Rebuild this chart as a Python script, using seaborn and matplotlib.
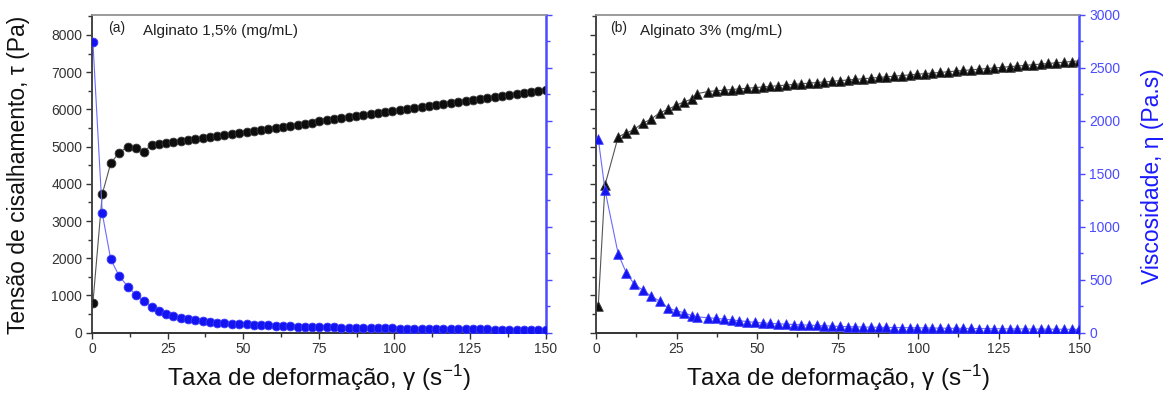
import matplotlib
matplotlib.use("Agg")
import matplotlib.pyplot as plt
from matplotlib.ticker import MultipleLocator
import seaborn as sns

# ---------------- data ----------------
# Panel (a): Alginato 1,5 %
rate_a = [0.3, 3.4, 6.2, 9.0, 11.9, 14.5, 17.1, 19.7, 22.1, 24.5, 26.9, 29.4, 31.8,
          34.2, 36.6, 39.0, 41.4, 43.8, 46.2, 48.7, 51.1, 53.5, 55.9, 58.3, 60.7,
          63.1, 65.5, 68.0, 70.4, 72.8, 75.2, 77.6, 80.0, 82.4, 84.9, 87.3, 89.7,
          92.1, 94.5, 96.9, 99.3, 101.7, 104.2, 106.6, 109.0, 111.4, 113.8, 116.2,
          118.6, 121.0, 123.5, 125.9, 128.3, 130.7, 133.1, 135.5, 137.9, 140.4,
          142.8, 145.2, 147.6, 150.0]
stress_a = [800, 3728, 4554, 4839, 5000, 4973, 4866, 5046, 5073, 5100, 5128, 5156, 5183,
            5210, 5238, 5265, 5292, 5319, 5347, 5375, 5402, 5429, 5456, 5484, 5511,
            5538, 5565, 5594, 5621, 5648, 5675, 5703, 5730, 5757, 5785, 5813, 5840,
            5867, 5894, 5921, 5949, 5976, 6004, 6032, 6059, 6086, 6113, 6140,
            6168, 6195, 6223, 6250, 6278, 6305, 6332, 6359, 6386, 6415,
            6442, 6469, 6496, 6524]
visc_a = [2740, 1124, 691, 534, 433, 355, 301, 245, 207, 176, 157, 141, 126,
          117, 109, 102, 96, 91, 86, 82, 78, 74, 71, 68, 65,
          63, 60, 58, 56, 54, 53, 51, 50, 48, 47, 46, 44,
          43, 42, 41, 40, 39, 38, 37, 37, 36, 35, 34,
          34, 33, 32, 32, 31, 31, 30, 30, 29, 29,
          28, 28, 27, 27]

# Panel (b): Alginato 3 %
rate_b = [0.7, 2.8, 6.9, 9.4, 11.9, 14.5, 17.1, 19.8, 22.5, 24.9, 27.3, 29.8, 31.2,
          34.7, 37.3, 39.7, 42.1, 44.5, 46.9, 49.3, 51.7, 54.1, 56.5, 58.9, 61.3,
          63.7, 66.1, 68.5, 70.9, 73.3, 75.7, 78.1, 80.5, 82.9, 85.3, 87.7, 90.1,
          92.5, 94.9, 97.3, 99.7, 102.0, 104.4, 106.8, 109.2, 111.6, 114.0, 116.4,
          118.8, 121.2, 123.6, 126.0, 128.4, 130.8, 133.2, 135.6, 138.0, 140.4,
          142.8, 145.2, 147.6, 150.0]
stress_b = [718, 3970, 5269, 5360, 5468, 5629, 5737, 5914, 6005, 6113, 6202, 6280, 6420,
            6480, 6500, 6517, 6534, 6551, 6568, 6585, 6602, 6619, 6636, 6653, 6670,
            6688, 6705, 6722, 6739, 6756, 6773, 6790, 6807, 6824, 6841, 6858, 6876,
            6893, 6910, 6927, 6944, 6960, 6977, 6994, 7011, 7029, 7046, 7063,
            7080, 7097, 7114, 7131, 7149, 7166, 7183, 7200, 7217, 7234,
            7251, 7268, 7287, 7304]
visc_b = [1830, 1343, 741, 565, 456, 402, 345, 298, 230, 207, 188, 160, 150,
          141, 135, 128, 121, 113, 105, 97, 92, 88, 84, 80, 77,
          74, 71, 68, 65, 62, 59, 57, 55, 53, 52, 51, 50,
          49, 48, 47, 46, 45, 44, 43, 42, 41, 41, 40,
          39, 38, 38, 37, 36, 36, 35, 34, 34, 33,
          33, 32, 32, 31]

panel_tags = ["(a)", "(b)"]
panel_titles = ["Alginato 1,5% (mg/mL)", "Alginato 3% (mg/mL)"]
x_ticks = [0, 25, 50, 75, 100, 125, 150]
xlabel = "Taxa de deformação, γ (s$^{-1}$)"
ylabel_left = "Tensão de cisalhamento, τ (Pa)"
ylabel_right = "Viscosidade, η (Pa.s)"

# ---------------- style ----------------
sns.set_theme(style="ticks")
plt.rcParams["font.family"] = ["Liberation Sans", "DejaVu Sans"]
plt.rcParams["mathtext.fontset"] = "custom"
plt.rcParams["mathtext.rm"] = "Liberation Sans"
plt.rcParams["mathtext.it"] = "Liberation Sans:italic"
plt.rcParams["mathtext.bf"] = "Liberation Sans:bold"

BLUE = "#1414f0"
BLUE_LINE = "#6a6aff"
BLUE_AX = "#4a4aff"
DARK = "#333333"

fig = plt.figure(figsize=(11.75, 3.95), dpi=100)
W, H = 1175.0, 395.0
bottom_px, top_px = 332.7, 14.5
panels = [(92.0, 545.7), (596.0, 1079.3)]

datasets = [(rate_a, stress_a, visc_a, "o"), (rate_b, stress_b, visc_b, "^")]

for i, ((lpx, rpx), (rx, st, vi, mk)) in enumerate(zip(panels, datasets)):
    ax = fig.add_axes([lpx / W, 1 - bottom_px / H, (rpx - lpx) / W, (bottom_px - top_px) / H])
    ax2 = ax.twinx()
    size = 40 if mk == "o" else 48

    # shear stress (black)
    sns.lineplot(x=rx, y=st, ax=ax, color="#555555", linewidth=0.8, sort=False,
                 estimator=None, zorder=2)
    sns.scatterplot(x=rx, y=st, ax=ax, color="#0d0d0d", marker=mk, s=size,
                    edgecolor="#3a3a3a", linewidth=0.6, zorder=3)
    # viscosity (blue)
    sns.lineplot(x=rx, y=vi, ax=ax2, color=BLUE_LINE, linewidth=0.8, sort=False,
                 estimator=None, zorder=2)
    sns.scatterplot(x=rx, y=vi, ax=ax2, color=BLUE, marker=mk, s=size,
                    edgecolor="#3c3cff", linewidth=0.6, zorder=3)

    ax.set_xlim(0, 150)
    ax.set_ylim(0, 8550)
    ax2.set_ylim(0, 3000)
    ax.set_xticks(x_ticks)
    ax.xaxis.set_minor_locator(MultipleLocator(12.5))
    ax.yaxis.set_major_locator(MultipleLocator(1000))
    ax.yaxis.set_minor_locator(MultipleLocator(500))
    ax2.yaxis.set_major_locator(MultipleLocator(500))
    ax2.yaxis.set_minor_locator(MultipleLocator(250))

    ax.set_xlabel("")
    ax.set_ylabel("")
    ax2.set_ylabel("")

    ax.tick_params(axis="both", which="major", direction="out", length=4, width=1,
                   color=DARK, labelcolor=DARK, labelsize=10, pad=3)
    ax.tick_params(axis="both", which="minor", direction="out", length=3, width=1, color=DARK)
    ax2.tick_params(axis="y", which="major", direction="out", length=4, width=1,
                    color=BLUE_AX, labelcolor=BLUE_AX, labelsize=10, pad=3)
    ax2.tick_params(axis="y", which="minor", direction="out", length=3, width=1, color=BLUE_AX)

    if i == 0:
        ax2.tick_params(axis="y", labelright=False)
    else:
        ax.tick_params(axis="y", labelleft=False)

    for a in (ax, ax2):
        a.spines["top"].set_color("#9a9a9a")
        a.spines["top"].set_linewidth(1.2)
        a.spines["left"].set_color("#444444")
        a.spines["bottom"].set_color("#333333")
        a.spines["left"].set_linewidth(1.2)
        a.spines["bottom"].set_linewidth(1.2)
    ax.spines["right"].set_visible(False)
    ax2.spines["right"].set_color(BLUE_AX)
    ax2.spines["right"].set_linewidth(1.8)
    ax2.spines["right"].set_visible(True)
    ax2.spines["top"].set_visible(True)

    ax.text(0.035 if i == 0 else 0.029, 0.958, panel_tags[i], transform=ax.transAxes,
            fontsize=10, color="#222222", va="center", ha="left")
    ax.text(0.112 if i == 0 else 0.091, 0.947, panel_titles[i], transform=ax.transAxes,
            fontsize=11, color="#222222", va="center", ha="left")

    fig.text(((lpx + rpx) / 2) / W, 1 - 386 / H, xlabel, ha="center", va="baseline",
             fontsize=17.5, color="#111111")

fig.text(19 / W, 1 - 175 / H, ylabel_left, rotation=90, ha="center", va="center",
         fontsize=16.5, color="#111111")
fig.text(1152 / W, 1 - 176.5 / H, ylabel_right, rotation=90, ha="center", va="center",
         fontsize=16.5, color="#1a1aff")

fig.savefig("out.png", dpi=100)
